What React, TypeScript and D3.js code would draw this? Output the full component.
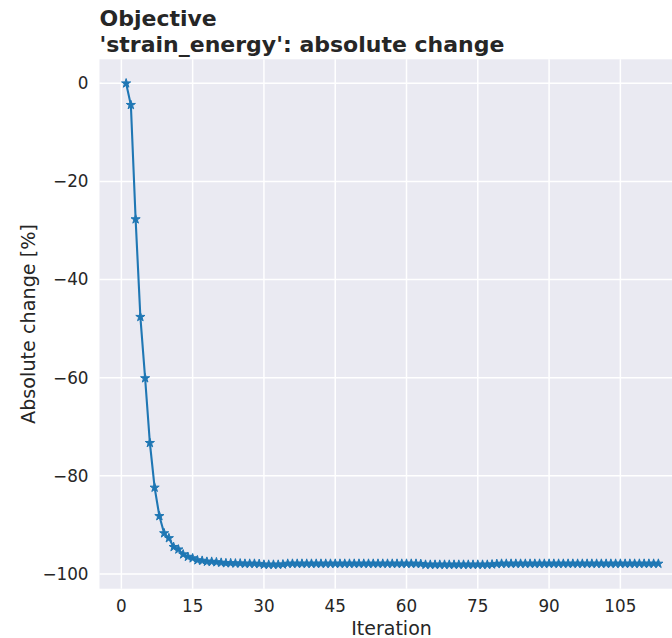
import React from 'react';
import * as d3 from 'd3';

const width = 672;
const height = 638;
// plot box: the figure is cropped on the right, so the axes run past the svg edge
const margin = { top: 59.3, bottom: 49.3, left: 99.5 };
const plotRight = 685;

const titleLines = ['Objective', "'strain_energy': absolute change"];
const xLabel = 'Iteration';
const yLabel = 'Absolute change [%]';
const xTicks = [0, 15, 30, 45, 60, 75, 90, 105];
const yTicks = [0, -20, -40, -60, -80, -100];

// absolute change per iteration (iteration = index + 1)
const absoluteChange = [
    0, -4.4, -27.7, -47.6, -60.1, -73.3, -82.4, -88.2, -91.7, -92.7,
    -94.5, -95.0, -96.0, -96.5, -96.8, -97.2, -97.3, -97.5, -97.5, -97.6,
    -97.7, -97.8, -97.8, -97.85, -97.85, -97.9, -97.9, -97.9, -97.95, -98.1,
    -98.1, -98.1, -98.1, -98.05, -97.9, -97.9, -97.9, -97.9, -97.9, -97.9,
    -97.9, -97.9, -97.9, -97.9, -97.9, -97.9, -97.9, -97.9, -97.9, -97.9,
    -97.9, -97.9, -97.9, -97.9, -97.9, -97.9, -97.9, -97.9, -97.9, -97.9,
    -97.9, -97.9, -97.95, -98.1, -98.1, -98.1, -98.1, -98.1, -98.1, -98.1,
    -98.1, -98.1, -98.1, -98.1, -98.1, -98.1, -98.1, -98.05, -97.95, -97.9,
    -97.9, -97.9, -97.9, -97.9, -97.9, -97.9, -97.9, -97.9, -97.9, -97.9,
    -97.9, -97.9, -97.9, -97.9, -97.9, -97.9, -97.9, -97.9, -97.9, -97.9,
    -97.9, -97.9, -97.9, -97.9, -97.9, -97.9, -97.9, -97.9, -97.9, -97.9,
    -97.9, -97.9, -97.9,
];

const font = '"DejaVu Sans", sans-serif';
const textColor = '#262626';
const lineColor = '#1f77b4';

const fmt = (v: number) => String(v).replace('-', '\u2212');

export default function App() {
    const data = absoluteChange.map((v, i) => ({ it: i + 1, v }));

    const [x0, x1] = d3.extent(data, d => d.it) as [number, number];
    const [y0, y1] = d3.extent(data, d => d.v) as [number, number];
    const xPad = (x1 - x0) * 0.05;
    const yPad = (y1 - y0) * 0.05;

    const xScale = d3.scaleLinear().domain([x0 - xPad, x1 + xPad]).range([margin.left, plotRight]);
    const yScale = d3.scaleLinear().domain([y0 - yPad, y1 + yPad]).range([height - margin.bottom, margin.top]);

    const line = d3.line<{ it: number; v: number }>().x(d => xScale(d.it)).y(d => yScale(d.v));
    const star = d3.symbol().type(d3.symbolStar).size(4.8 * 4.8 / 0.8908)();

    const plotTop = margin.top;
    const plotBottom = height - margin.bottom;

    return (
        <svg width={width} height={height} style={{ position: 'absolute', left: 0, top: 0, background: '#fff' }}>
            <rect x={margin.left} y={plotTop} width={plotRight - margin.left} height={plotBottom - plotTop} fill="#eaeaf2" />

            {xTicks.map(t => (
                <line key={'gx' + t} x1={xScale(t)} x2={xScale(t)} y1={plotTop} y2={plotBottom} stroke="#fff" strokeWidth={1.5} />
            ))}
            {yTicks.map(t => (
                <line key={'gy' + t} x1={margin.left} x2={plotRight} y1={yScale(t)} y2={yScale(t)} stroke="#fff" strokeWidth={1.5} />
            ))}

            <path d={line(data) || ''} fill="none" stroke={lineColor} strokeWidth={2.1} strokeLinejoin="round" />
            {data.map(d => (
                <path
                    key={d.it}
                    d={star || ''}
                    transform={`translate(${xScale(d.it)},${yScale(d.v)})`}
                    fill={lineColor}
                    stroke={lineColor}
                    strokeWidth={1}
                />
            ))}

            {xTicks.map(t => (
                <text key={'tx' + t} x={xScale(t)} y={612} textAnchor="middle" fontFamily={font} fontSize={16.8} fill={textColor}>
                    {fmt(t)}
                </text>
            ))}
            {yTicks.map(t => (
                <text key={'ty' + t} x={88.5} y={yScale(t)} dy="0.35em" textAnchor="end" fontFamily={font} fontSize={16.8} fill={textColor}>
                    {fmt(t)}
                </text>
            ))}

            <text x={391.5} y={635} textAnchor="middle" fontFamily={font} fontSize={19} fill={textColor}>
                {xLabel}
            </text>
            <text
                transform={`translate(34.5,${(plotTop + plotBottom) / 2}) rotate(-90)`}
                textAnchor="middle"
                fontFamily={font}
                fontSize={19.2}
                fill={textColor}
            >
                {yLabel}
            </text>

            {titleLines.map((t, i) => (
                <text key={i} x={99.5} y={26 + i * 26.3} fontFamily={font} fontSize={22} fontWeight="bold" fill={textColor}>
                    {t}
                </text>
            ))}
        </svg>
    );
}
